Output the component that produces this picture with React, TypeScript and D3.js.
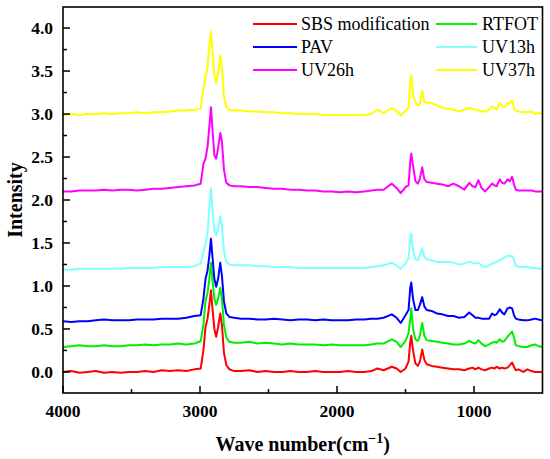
import React from "react";
import * as d3 from "d3";

const WAVE = [
  4000, 3940, 3880, 3820, 3760, 3700, 3640, 3580, 3520, 3460, 3400, 3340, 3280, 3220, 3160, 3100, 3040,
  2995, 2975, 2960, 2945, 2932, 2920, 2908, 2895, 2882, 2868, 2852, 2840, 2825, 2808, 2785, 2750,
  2700, 2640, 2580, 2520, 2460, 2400, 2340, 2280, 2220, 2160, 2100, 2040, 1980, 1920, 1860,
  1800, 1750, 1705, 1660, 1600, 1565, 1535, 1500, 1478, 1465, 1458, 1445, 1428, 1410, 1395, 1378, 1362, 1345,
  1310, 1270, 1230, 1190, 1150, 1110, 1070, 1035, 1010, 990, 968, 945, 918, 890, 868, 850, 835, 812, 795, 778,
  755, 738, 722, 708, 695, 675, 640, 610, 580, 555, 530, 500,
];

const SBS = [
  0.0, 0.01, -0.01, 0.0, 0.01, -0.01, 0.0, -0.01, 0.0, 0.0, 0.01, 0.0, 0.02, 0.01, 0.02, 0.01, 0.03,
  0.04, 0.25, 0.52, 0.62, 0.78, 0.95, 0.72, 0.5, 0.41, 0.52, 0.68, 0.55, 0.22, 0.08, 0.03, 0.01,
  0.01, 0.02, 0.0, 0.01, 0.0, 0.0, 0.01, 0.0, 0.0, 0.01, 0.0, 0.0, 0.0, 0.01, 0.0,
  0.0, 0.01, 0.04, 0.02, 0.06, 0.04, 0.0, 0.04, 0.12, 0.35, 0.42, 0.25, 0.1, 0.07, 0.12, 0.26, 0.14, 0.09,
  0.07, 0.06, 0.05, 0.04, 0.03, 0.03, 0.02, 0.04, 0.05, 0.03, 0.05, 0.03, 0.02, 0.04, 0.05, 0.04, 0.06, 0.04, 0.05, 0.04,
  0.05, 0.08, 0.11, 0.06, 0.02, 0.03, 0.0, 0.03, 0.01, 0.0, 0.0, 0.0,
];

const RTFOT = [
  0.29, 0.3, 0.31, 0.3, 0.3, 0.31, 0.3, 0.3, 0.31, 0.31, 0.32, 0.31, 0.32, 0.32, 0.33, 0.32, 0.33,
  0.36, 0.55, 0.82, 0.92, 1.08, 1.27, 1.05, 0.85, 0.78, 0.85, 0.98, 0.85, 0.55, 0.4, 0.35, 0.34,
  0.34, 0.35, 0.33, 0.34, 0.33, 0.32, 0.33, 0.32, 0.32, 0.32, 0.31, 0.32, 0.31, 0.31, 0.31,
  0.31, 0.32, 0.33, 0.33, 0.38, 0.35, 0.29, 0.36, 0.45, 0.62, 0.74, 0.5, 0.38, 0.36, 0.42, 0.57, 0.42, 0.37,
  0.36, 0.35, 0.34, 0.33, 0.32, 0.32, 0.33, 0.36, 0.34, 0.33, 0.37, 0.33, 0.3, 0.32, 0.34, 0.35, 0.34, 0.38, 0.35, 0.36,
  0.41, 0.44, 0.47, 0.4, 0.31, 0.3, 0.29, 0.29, 0.31, 0.32, 0.3, 0.29,
];

const PAV = [
  0.59, 0.58, 0.59, 0.59, 0.6, 0.61, 0.6, 0.6, 0.6, 0.61, 0.61, 0.61, 0.62, 0.62, 0.62, 0.63, 0.65,
  0.66, 0.85, 1.08, 1.18, 1.35, 1.55, 1.32, 1.08, 0.99, 1.08, 1.27, 1.12, 0.82, 0.68, 0.64, 0.63,
  0.62, 0.62, 0.61, 0.61, 0.62, 0.61, 0.6, 0.61, 0.61, 0.6, 0.61, 0.6, 0.6, 0.6, 0.61,
  0.61, 0.62, 0.62, 0.63, 0.67, 0.63, 0.57, 0.66, 0.72, 0.98, 1.04, 0.85, 0.72, 0.72, 0.78, 0.87, 0.76, 0.72,
  0.71, 0.68, 0.67, 0.65, 0.65, 0.63, 0.64, 0.69, 0.66, 0.63, 0.63, 0.62, 0.62, 0.62, 0.68, 0.66, 0.67, 0.73, 0.69, 0.67,
  0.74, 0.75, 0.74, 0.66, 0.62, 0.61, 0.6, 0.6, 0.61, 0.62, 0.61, 0.6,
];

const UV13 = [
  1.19, 1.19, 1.2, 1.2, 1.2, 1.2, 1.2, 1.2, 1.21, 1.21, 1.21, 1.21, 1.22, 1.22, 1.22, 1.22, 1.23,
  1.26, 1.4, 1.48, 1.62, 1.9, 2.14, 1.85, 1.65, 1.59, 1.66, 1.81, 1.7, 1.4, 1.28, 1.25, 1.24,
  1.24, 1.24, 1.23, 1.23, 1.22, 1.22, 1.22, 1.21, 1.21, 1.21, 1.21, 1.21, 1.21, 1.21, 1.21,
  1.21, 1.22, 1.23, 1.24, 1.27, 1.24, 1.2, 1.26, 1.32, 1.55, 1.61, 1.42, 1.31, 1.3, 1.36, 1.44, 1.34, 1.31,
  1.3, 1.28, 1.28, 1.28, 1.27, 1.25, 1.26, 1.28, 1.27, 1.26, 1.27, 1.24, 1.22, 1.24, 1.26, 1.27, 1.28, 1.3, 1.31, 1.33,
  1.35, 1.35, 1.35, 1.3, 1.24, 1.22, 1.22, 1.22, 1.21, 1.21, 1.2, 1.2,
];

const UV26 = [
  2.1, 2.1, 2.11, 2.11, 2.11, 2.12, 2.11, 2.12, 2.12, 2.11, 2.12, 2.13, 2.13, 2.14, 2.15, 2.16, 2.17,
  2.19, 2.42, 2.48, 2.62, 2.85, 3.08, 2.8, 2.52, 2.48, 2.6, 2.78, 2.68, 2.35, 2.2, 2.17, 2.16,
  2.16, 2.15, 2.15, 2.14, 2.13, 2.13, 2.12, 2.12, 2.11, 2.11, 2.1, 2.1, 2.09, 2.1, 2.09,
  2.1, 2.11, 2.12, 2.12, 2.19, 2.14, 2.08, 2.15, 2.17, 2.45, 2.54, 2.4, 2.22, 2.19, 2.25, 2.38, 2.24, 2.21,
  2.2, 2.19, 2.18, 2.16, 2.19, 2.16, 2.12, 2.2, 2.16, 2.15, 2.23, 2.14, 2.1, 2.15, 2.19, 2.17, 2.16, 2.24, 2.2, 2.19,
  2.24, 2.22, 2.27, 2.18, 2.12, 2.11, 2.11, 2.11, 2.11, 2.1, 2.1, 2.1,
];

const UV37 = [
  2.99, 3.0, 2.99, 3.0, 3.0, 3.01, 3.0, 3.01, 3.01, 3.02, 3.01, 3.02, 3.02, 3.03, 3.04, 3.04, 3.05,
  3.06, 3.3, 3.42, 3.55, 3.8, 3.96, 3.72, 3.45, 3.36, 3.48, 3.68, 3.55, 3.2, 3.08, 3.05, 3.04,
  3.04, 3.03, 3.03, 3.02, 3.02, 3.01, 3.01, 3.0, 3.0, 3.0, 2.99, 2.99, 2.99, 2.99, 2.99,
  2.99, 3.0, 3.05, 3.01, 3.07, 3.04, 2.98, 3.04, 3.07, 3.38, 3.45, 3.22, 3.14, 3.1, 3.12, 3.27, 3.14, 3.13,
  3.13, 3.1, 3.07, 3.06, 3.05, 3.03, 3.05, 3.07, 3.06, 3.05, 3.04, 3.03, 3.03, 3.05, 3.09, 3.07, 3.05, 3.13, 3.09, 3.08,
  3.13, 3.12, 3.16, 3.06, 3.04, 3.03, 3.02, 3.02, 3.03, 3.0, 3.01, 3.01,
];

const SERIES_NAMES = ["SBS modification", "RTFOT", "PAV", "UV13h", "UV26h", "UV37h"];
const SERIES_VALUES = [SBS, RTFOT, PAV, UV13, UV26, UV37];
const COLORS = ["#ff0000", "#00ee00", "#0000ff", "#7fffff", "#ff00ff", "#ffff00"];

const X_TICKS = [4000, 3000, 2000, 1000];
const X_MINOR = [3500, 2500, 1500];
const Y_TICKS = [0, 0.5, 1, 1.5, 2, 2.5, 3, 3.5, 4];
const Y_MINOR = [0.25, 0.75, 1.25, 1.75, 2.25, 2.75, 3.25, 3.75];

const W = 550;
const H = 459;
const M = { left: 63, right: 542.5, top: 7, bottom: 393 };
const FONT = "'Liberation Serif', 'Times New Roman', Times, serif";

export default function App() {
  const x = d3.scaleLinear().domain([4000, 500]).range([M.left, M.right]);
  const y = d3.scaleLinear().domain([-0.245, 4.245]).range([M.bottom, M.top]);
  const line = d3
    .line<number>()
    .x((_, i) => x(WAVE[i]))
    .y((d) => y(d))
    .curve(d3.curveLinear);

  const legendCols = [
    { lx1: 253, lx2: 297, tx: 301 },
    { lx1: 436, lx2: 477, tx: 482 },
  ];
  const legendRows = [24, 47, 70];

  return (
    <svg width={W} height={H} style={{ position: "absolute", left: 0, top: 0, background: "#fff" }}>
      <rect x={0} y={0} width={W} height={H} fill="#fff" />
      <g fill="none" strokeWidth={2} strokeLinejoin="round">
        {SERIES_VALUES.map((vals, i) => (
          <path key={i} d={line(vals) || ""} stroke={COLORS[i]} />
        ))}
      </g>
      <rect
        x={M.left}
        y={M.top}
        width={M.right - M.left}
        height={M.bottom - M.top}
        fill="none"
        stroke="#000"
        strokeWidth={1.6}
      />
      {X_TICKS.map((t) => (
        <line key={"xt" + t} x1={x(t)} x2={x(t)} y1={M.bottom} y2={M.bottom - 7} stroke="#000" strokeWidth={1.5} />
      ))}
      {X_MINOR.map((t) => (
        <line key={"xm" + t} x1={x(t)} x2={x(t)} y1={M.bottom} y2={M.bottom - 4} stroke="#000" strokeWidth={1.5} />
      ))}
      {Y_TICKS.map((t) => (
        <line key={"yt" + t} x1={M.left} x2={M.left + 7} y1={y(t)} y2={y(t)} stroke="#000" strokeWidth={1.5} />
      ))}
      {Y_MINOR.map((t) => (
        <line key={"ym" + t} x1={M.left} x2={M.left + 4} y1={y(t)} y2={y(t)} stroke="#000" strokeWidth={1.5} />
      ))}
      <g fontFamily={FONT} fontWeight="bold" fontSize={17.5} fill="#000">
        {X_TICKS.map((t) => (
          <text key={"xl" + t} x={x(t)} y={417} textAnchor="middle">
            {t}
          </text>
        ))}
        {Y_TICKS.map((t) => (
          <text key={"yl" + t} x={53} y={y(t)} dy="0.35em" textAnchor="end">
            {t.toFixed(1)}
          </text>
        ))}
      </g>
      <text
        x={(M.left + M.right) / 2}
        y={451}
        textAnchor="middle"
        fontFamily={FONT}
        fontWeight="bold"
        fontSize={20}
      >
        Wave number(cm
        <tspan dy={-8} fontSize={14}>
          −1
        </tspan>
        <tspan dy={8}>)</tspan>
      </text>
      <text
        transform={`translate(22,200) rotate(-90)`}
        textAnchor="middle"
        fontFamily={FONT}
        fontWeight="bold"
        fontSize={20}
      >
        Intensity
      </text>
      <g fontFamily={FONT} fontSize={18}>
        {SERIES_NAMES.map((name, i) => {
          const col = legendCols[i % 2];
          const ry = legendRows[Math.floor(i / 2)];
          return (
            <g key={name}>
              <line x1={col.lx1} x2={col.lx2} y1={ry} y2={ry} stroke={COLORS[i]} strokeWidth={2} />
              <text x={col.tx} y={ry} dy="0.35em">
                {name}
              </text>
            </g>
          );
        })}
      </g>
    </svg>
  );
}
